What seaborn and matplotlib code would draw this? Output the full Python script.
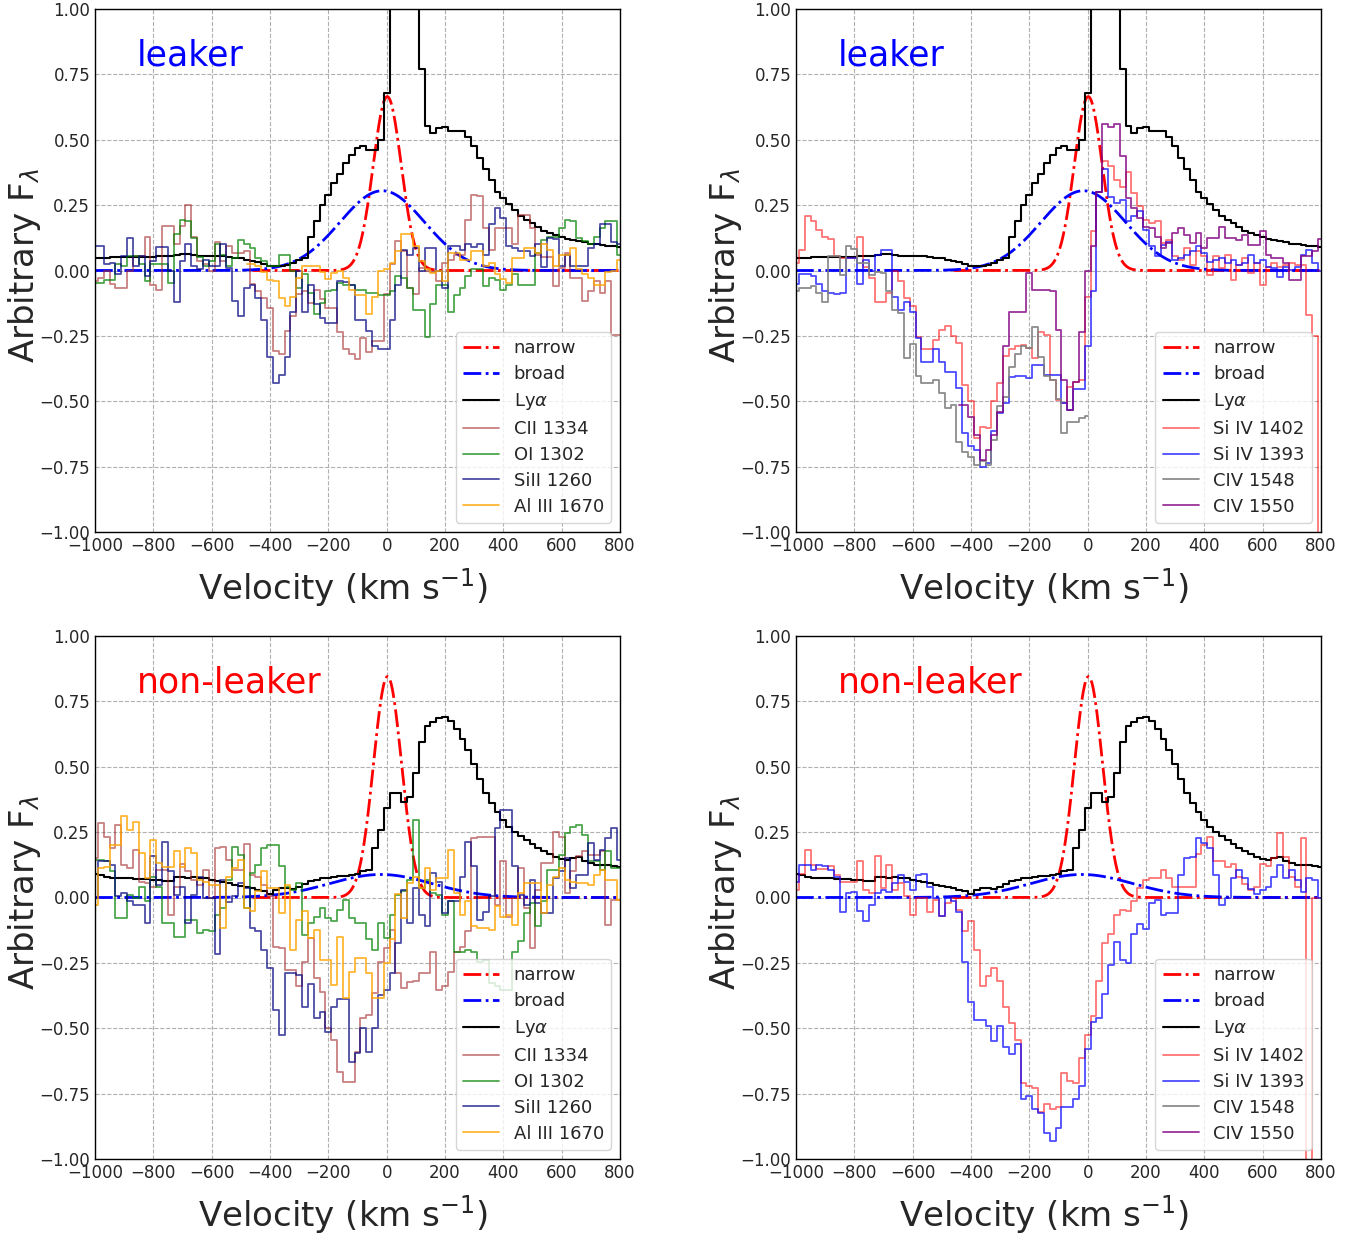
import numpy as np
import matplotlib
matplotlib.use("Agg")
import matplotlib.pyplot as plt
from matplotlib.lines import Line2D
import seaborn as sns

# velocity bin centres (km/s), 20 km/s bins
VEL = np.arange(-1000, 801, 20)
nan = np.nan

# ---------------- Ly-alpha profiles ----------------
LYA_LEAKER = [
    0.047, 0.047, 0.049, 0.050, 0.050, 0.051, 0.052, 0.052, 0.053, 0.052,
    0.052, 0.054, 0.055, 0.057, 0.060, 0.064, 0.062, 0.059, 0.057, 0.056,
    0.055, 0.056, 0.056, 0.052, 0.048, 0.046, 0.042, 0.038, 0.033, 0.026,
    0.019, 0.018, 0.019, 0.022, 0.030, 0.040, 0.047, 0.128, 0.19, 0.25,
    0.29, 0.334, 0.37, 0.41, 0.44, 0.47, 0.475, 0.46, 0.46, 0.50,
    0.68, 1.9, 2.4, 2.6, 2.3, 1.8, 0.77, 0.553, 0.525, 0.545,
    0.55, 0.535, 0.535, 0.535, 0.51, 0.475, 0.43, 0.39, 0.347, 0.30,
    0.277, 0.255, 0.23, 0.21, 0.195, 0.18, 0.165, 0.152, 0.142, 0.136,
    0.128, 0.122, 0.118, 0.113, 0.108, 0.103, 0.10, 0.097, 0.094, 0.092,
    0.09]

LYA_NONLEAKER = [
    0.088, 0.085, 0.080, 0.076, 0.074, 0.073, 0.073, 0.072, 0.072, 0.070,
    0.068, 0.066, 0.064, 0.065, 0.077, 0.077, 0.076, 0.077, 0.075, 0.074,
    0.068, 0.064, 0.058, 0.054, 0.049, 0.045, 0.040, 0.035, 0.030, 0.024,
    0.015, 0.028, 0.036, 0.036, 0.034, 0.040, 0.052, 0.062, 0.068, 0.073,
    0.075, 0.079, 0.082, 0.084, 0.086, 0.088, 0.10, 0.105, 0.19, 0.26,
    0.344, 0.40, 0.40, 0.365, 0.385, 0.477, 0.594, 0.657, 0.672, 0.685,
    0.689, 0.676, 0.643, 0.608, 0.564, 0.509, 0.455, 0.40, 0.36, 0.328,
    0.296, 0.27, 0.25, 0.235, 0.22, 0.205, 0.19, 0.178, 0.165, 0.155,
    0.148, 0.143, 0.15, 0.155, 0.14, 0.132, 0.126, 0.125, 0.124, 0.12,
    0.117]

# Gaussian fit components: amplitude, centre (km/s), sigma (km/s)
NARROW_LEAKER = [0.665, 2.0, 48.0]
BROAD_LEAKER = [0.305, -15.0, 145.0]
NARROW_NONLEAKER = [0.845, 3.0, 48.0]
BROAD_NONLEAKER = [0.088, -20.0, 175.0]
NARROW_RANGE = [-460, 800]

# ---------------- leaker, low ionisation ----------------
CII_LEAKER = [
    -0.04, -0.03, 0.0, -0.05, -0.066, -0.066, -0.003, 0.055, 0.055, 0.128,
    -0.054, -0.073, 0.17, 0.17, 0.10, 0.17, 0.25, 0.13, 0.035, 0.023,
    0.0, 0.11, 0.035, 0.093, 0.068, 0.068, 0.074, -0.05, -0.08, -0.105,
    -0.143, -0.306, -0.32, -0.23, -0.175, -0.09, -0.08, -0.124, -0.073, -0.11,
    -0.143, -0.143, -0.235, -0.30, -0.32, -0.337, -0.26, -0.31, -0.27, -0.27,
    -0.09, 0.023, 0.112, 0.074, -0.066, -0.09, 0.01, 0.0, -0.004, -0.04,
    0.03, 0.042, 0.06, 0.06, 0.195, 0.29, 0.285, 0.163, 0.08, 0.163,
    0.163, 0.163, 0.10, 0.214, 0.214, 0.163, 0.06, 0.05, 0.05, -0.06,
    0.008, 0.068, -0.028, -0.028, -0.115, -0.08, -0.04, -0.085, -0.04, -0.245,
    -0.245]

OI_LEAKER = [
    -0.047, -0.047, -0.035, -0.035, 0.023, 0.017, 0.055, 0.055, 0.023, -0.04,
    0.023, 0.023, 0.023, -0.047, 0.138, 0.195, 0.188, 0.125, 0.05, 0.017,
    0.035, 0.10, 0.06, 0.017, 0.048, 0.118, 0.10, 0.087, 0.048, 0.035,
    0.017, 0.017, 0.06, 0.06, -0.003, -0.066, -0.015, -0.085, -0.168, -0.124,
    -0.08, -0.073, -0.047, -0.054, -0.054, -0.073, -0.073, -0.085, -0.085, -0.092,
    -0.092, -0.08, -0.022, -0.028, -0.066, -0.15, -0.15, -0.255, -0.13, -0.054,
    -0.054, -0.16, -0.092, -0.066, -0.022, 0.004, 0.004, -0.06, -0.028, -0.035,
    -0.073, -0.054, -0.015, -0.054, -0.054, -0.054, 0.068, 0.118, 0.13, 0.13,
    0.163, 0.195, 0.188, 0.125, 0.112, 0.10, 0.13, 0.163, 0.19, 0.19,
    0.06]

SIII_LEAKER = [
    0.093, 0.093, 0.023, 0.03, -0.015, 0.055, 0.125, 0.017, 0.055, -0.02,
    0.035, 0.09, 0.09, -0.003, -0.12, 0.035, 0.10, 0.017, 0.004, 0.042,
    0.017, 0.017, 0.10, 0.01, -0.115, -0.175, -0.066, -0.056, -0.107, -0.19,
    -0.33, -0.43, -0.40, -0.33, -0.16, 0.0, -0.16, -0.054, -0.13, -0.18,
    -0.20, -0.20, -0.04, -0.043, -0.054, -0.19, -0.19, -0.23, -0.29, -0.30,
    -0.30, -0.19, -0.054, 0.08, 0.06, 0.087, 0.0, 0.087, 0.087, 0.0,
    -0.066, 0.093, 0.093, 0.08, 0.10, 0.09, 0.10, 0.06, 0.176, 0.24,
    0.20, 0.093, 0.087, 0.074, 0.074, 0.055, 0.10, 0.013, 0.125, 0.12,
    0.017, 0.06, 0.017, 0.017, 0.017, 0.087, 0.10, 0.176, 0.176, 0.11,
    0.10]

ALIII_LEAKER = [
    nan, nan, nan, nan, nan, nan, nan, nan, nan, nan,
    nan, nan, nan, nan, nan, nan, nan, nan, nan, nan,
    nan, nan, nan, nan, nan, nan, 0.023, 0.023, 0.017, -0.005,
    -0.038, -0.04, -0.105, -0.137, -0.10, -0.028, 0.017, 0.017, 0.017, -0.005,
    -0.034, -0.009, -0.003, -0.028, -0.073, -0.094, -0.094, -0.166, -0.10, 0.0,
    0.004, 0.03, 0.074, 0.138, 0.138, 0.093, 0.035, 0.004, -0.009, -0.003,
    -0.04, 0.068, 0.068, 0.042, 0.042, 0.074, 0.074, 0.017, 0.03, -0.015,
    -0.034, -0.047, 0.048, 0.048, 0.087, 0.087, 0.068, 0.10, 0.077, 0.017,
    0.06, 0.06, 0.087, 0.004, -0.015, -0.028, -0.054, -0.054, -0.005, 0.0,
    0.042]

# ---------------- leaker, high ionisation ----------------
SIIV1402_LEAKER = [
    0.03, 0.08, 0.207, 0.19, 0.156, 0.128, 0.12, 0.054, 0.047, 0.047,
    0.047, 0.13, 0.015, -0.03, -0.12, -0.12, -0.087, 0.0, -0.04, -0.105,
    -0.135, -0.255, -0.30, -0.30, -0.265, -0.227, -0.214, -0.25, -0.278, -0.437,
    -0.50, -0.64, -0.597, -0.603, -0.50, -0.43, -0.327, -0.30, -0.29, -0.284,
    -0.297, -0.335, -0.237, -0.246, -0.418, -0.495, -0.508, -0.444, -0.425, -0.418,
    -0.10, 0.15, 0.30, 0.42, 0.40, 0.347, 0.32, 0.376, 0.296, 0.245,
    0.194, 0.18, 0.19, 0.105, 0.117, 0.054, 0.04, 0.085, 0.022, 0.073,
    0.054, -0.017, 0.054, 0.01, 0.06, -0.036, 0.02, 0.047, -0.01, 0.028,
    -0.055, 0.015, 0.028, 0.015, 0.02, 0.03, 0.02, 0.02, -0.17, -0.25,
    -1.5]

SIIV1393_LEAKER = [
    -0.05, -0.015, -0.015, -0.02, -0.05, -0.08, -0.085, -0.088, -0.085, 0.047,
    0.047, -0.05, 0.04, 0.0, 0.06, 0.077, 0.077, -0.10, -0.15, -0.12,
    -0.16, -0.26, -0.35, -0.35, -0.30, -0.35, -0.39, -0.39, -0.45, -0.62,
    -0.67, -0.686, -0.75, -0.737, -0.615, -0.546, -0.507, -0.406, -0.403, -0.403,
    -0.41, -0.36, -0.36, -0.40, -0.40, -0.40, -0.507, -0.533, -0.455, -0.455,
    -0.29, -0.08, 0.30, 0.39, 0.28, 0.26, 0.27, 0.19, 0.21, 0.226,
    0.155, 0.092, 0.054, 0.098, 0.11, 0.04, 0.047, 0.06, 0.073, 0.094,
    0.066, 0.034, 0.04, 0.047, 0.028, 0.04, 0.02, 0.03, 0.06, 0.028,
    0.04, 0.015, 0.01, -0.023, 0.015, 0.003, 0.015, 0.06, 0.08, 0.028,
    0.0]

CIV1548_LEAKER = [
    -0.08, -0.068, -0.068, -0.06, -0.087, -0.122, 0.054, 0.054, -0.017, 0.092,
    0.082, 0.028, 0.028, -0.017, -0.004, -0.01, -0.08, -0.15, -0.163, -0.335,
    -0.28, -0.405, -0.43, -0.43, -0.42, -0.47, -0.527, -0.514, -0.654, -0.693,
    -0.712, -0.744, -0.727, -0.744, -0.647, -0.52, -0.482, -0.37, -0.32, -0.29,
    -0.297, -0.217, -0.33, -0.405, -0.42, -0.49, -0.622, -0.578, -0.578, -0.565,
    -0.556, nan, nan, nan, nan, nan, nan, nan, nan, nan,
    nan, nan, nan, nan, nan, nan, nan, nan, nan, nan,
    nan, nan, nan, nan, nan, nan, nan, nan, nan, nan,
    nan, nan, nan, nan, nan, nan, nan, nan, nan, nan,
    nan]

CIV1550_LEAKER = [
    nan, nan, nan, nan, nan, nan, nan, nan, nan, nan,
    nan, nan, nan, nan, nan, nan, nan, nan, nan, nan,
    nan, nan, nan, nan, nan, nan, nan, nan, -0.514, -0.514,
    -0.56, -0.63, -0.725, -0.686, -0.63, -0.54, -0.29, -0.157, -0.157, -0.157,
    -0.01, -0.074, -0.074, -0.074, -0.08, -0.227, -0.418, -0.533, -0.425, -0.237,
    0.0, 0.094, 0.30, 0.56, 0.55, 0.56, 0.436, 0.277, 0.238, 0.20,
    0.168, 0.162, 0.13, 0.085, 0.105, 0.143, 0.162, 0.136, 0.105, 0.143,
    0.085, 0.124, 0.124, 0.168, 0.124, 0.124, 0.118, 0.136, 0.098, 0.098,
    0.15, 0.06, 0.047, 0.047, 0.028, -0.036, -0.036, 0.054, 0.054, 0.073,
    0.12]

# ---------------- non-leaker, low ionisation ----------------
CII_NONLEAKER = [
    0.15, 0.285, 0.23, 0.19, 0.278, 0.125, 0.112, 0.182, 0.06, 0.055,
    0.042, 0.105, 0.105, -0.066, 0.042, 0.13, 0.10, 0.067, 0.048, 0.106,
    0.0, 0.19, 0.195, 0.145, 0.106, 0.106, 0.204, 0.087, 0.08, 0.048,
    0.004, -0.19, -0.195, -0.277, -0.277, -0.34, -0.245, -0.155, -0.308, -0.36,
    -0.50, -0.545, -0.666, -0.707, -0.707, -0.59, -0.462, -0.45, -0.366, -0.245,
    -0.194, -0.124, -0.29, -0.345, -0.322, -0.32, -0.29, -0.29, -0.207, -0.353,
    -0.34, -0.283, -0.207, -0.188, -0.13, 0.227, 0.233, 0.233, 0.233, -0.028,
    0.138, -0.073, -0.003, 0.112, -0.04, -0.194, 0.03, 0.132, 0.132, 0.25,
    0.233, 0.017, 0.10, 0.157, 0.176, 0.164, 0.164, 0.176, -0.105, -0.009,
    -0.009]

OI_NONLEAKER = [
    0.144, 0.144, 0.138, 0.10, -0.08, -0.08, 0.01, -0.003, 0.042, -0.015,
    0.08, 0.042, -0.098, -0.098, -0.15, -0.15, -0.085, -0.085, -0.136, -0.124,
    -0.13, -0.066, -0.04, 0.067, 0.195, 0.163, -0.04, 0.093, 0.125, 0.188,
    0.20, 0.20, 0.119, 0.042, 0.03, 0.055, -0.143, -0.098, -0.073, -0.04,
    -0.078, -0.09, -0.047, -0.009, -0.078, -0.098, -0.098, -0.16, -0.2, -0.098,
    -0.155, -0.066, 0.01, 0.023, 0.067, 0.297, 0.036, 0.067, 0.017, 0.01,
    -0.066, -0.015, -0.207, -0.207, -0.2, -0.207, -0.245, -0.24, -0.327, -0.34,
    -0.353, -0.353, -0.207, -0.168, -0.06, -0.022, -0.11, -0.015, 0.106, 0.106,
    0.163, 0.246, 0.27, 0.278, 0.24, 0.138, 0.138, 0.106, 0.176, 0.112,
    0.112]

SIII_NONLEAKER = [
    0.0, 0.138, 0.138, 0.125, 0.004, 0.017, -0.015, -0.028, -0.03, -0.098,
    0.157, 0.048, 0.214, 0.10, 0.01, 0.042, -0.098, 0.01, 0.08, -0.003,
    -0.003, -0.217, 0.067, -0.018, 0.004, 0.055, 0.036, -0.117, -0.127, -0.20,
    -0.27, -0.43, -0.525, -0.29, -0.29, -0.296, -0.417, -0.332, -0.46, -0.436,
    -0.515, -0.417, -0.39, -0.39, -0.628, -0.596, -0.50, -0.59, -0.50, -0.372,
    -0.353, -0.29, -0.175, 0.03, -0.098, 0.036, -0.066, -0.11, 0.093, 0.061,
    -0.06, -0.015, -0.015, 0.08, 0.214, 0.119, -0.085, -0.054, 0.004, 0.265,
    0.335, 0.335, 0.119, 0.01, -0.028, 0.067, -0.022, -0.06, -0.06, 0.074,
    0.10, 0.15, 0.036, 0.087, 0.087, 0.208, 0.145, 0.183, 0.227, 0.265,
    0.145]

ALIII_NONLEAKER = [
    -0.028, 0.112, 0.118, 0.2, 0.2, 0.31, 0.258, 0.29, 0.17, 0.074,
    0.22, 0.132, 0.118, 0.118, 0.176, 0.118, 0.189, 0.17, 0.068, 0.061,
    0.048, 0.048, -0.117, 0.08, 0.112, 0.144, -0.04, -0.053, 0.023, 0.10,
    0.036, 0.036, -0.06, 0.048, -0.2, -0.085, -0.053, -0.156, -0.124, -0.238,
    -0.238, -0.334, -0.15, -0.385, -0.283, -0.232, -0.232, -0.29, -0.385, -0.385,
    -0.25, -0.16, 0.015, -0.079, 0.055, 0.08, 0.036, 0.112, 0.03, 0.074,
    0.074, 0.182, 0.017, -0.066, -0.015, -0.11, -0.117, -0.117, -0.124, -0.034,
    -0.073, -0.066, -0.105, 0.017, 0.055, 0.055, 0.055, -0.06, 0.048, 0.08,
    0.112, 0.068, 0.061, 0.055, 0.055, 0.048, 0.087, 0.106, 0.068, 0.068,
    -0.009]

# ---------------- non-leaker, high ionisation ----------------
SIIV1402_NONLEAKER = [
    0.03, 0.09, 0.18, 0.125, 0.11, 0.11, 0.12, 0.087, 0.06, 0.06,
    0.06, 0.14, 0.03, 0.017, 0.157, 0.036, 0.125, 0.03, 0.055, 0.004,
    -0.066, 0.0, 0.0, -0.054, -0.01, -0.07, -0.02, 0.0, -0.047, -0.13,
    -0.09, -0.20, -0.34, -0.30, -0.27, -0.32, -0.42, -0.48, -0.545, -0.71,
    -0.72, -0.73, -0.82, -0.79, -0.81, -0.80, -0.67, -0.70, -0.71, -0.615,
    -0.525, -0.455, -0.32, -0.175, -0.14, -0.066, -0.047, -0.05, -0.015, 0.036,
    0.066, 0.073, 0.073, 0.105, 0.073, 0.04, 0.04, 0.04, 0.04, 0.168,
    0.20, 0.232, 0.14, 0.14, 0.118, 0.13, 0.08, 0.05, 0.028, 0.04,
    0.13, 0.12, 0.15, 0.245, 0.155, 0.08, 0.04, 0.226, -1.6, 0.0,
    0.0]

SIIV1393_NONLEAKER = [
    0.06, 0.125, 0.125, 0.106, 0.125, 0.12, 0.106, 0.08, -0.057, 0.017,
    0.02, -0.05, -0.09, -0.03, 0.017, 0.03, 0.02, 0.055, 0.087, 0.06,
    0.03, 0.087, 0.09, 0.04, 0.0, -0.07, 0.0, -0.015, -0.054, -0.245,
    -0.40, -0.47, -0.47, -0.49, -0.55, -0.49, -0.57, -0.60, -0.56, -0.77,
    -0.76, -0.81, -0.825, -0.90, -0.93, -0.88, -0.80, -0.80, -0.77, -0.72,
    -0.58, -0.475, -0.46, -0.37, -0.26, -0.17, -0.24, -0.25, -0.14, -0.10,
    -0.12, -0.02, -0.01, -0.066, -0.06, -0.06, 0.087, 0.15, 0.155, 0.226,
    0.207, 0.19, 0.085, -0.03, 0.0, 0.073, 0.105, 0.073, 0.034, 0.015,
    0.028, 0.04, 0.08, 0.124, 0.073, 0.105, 0.066, 0.022, 0.073, 0.066,
    0.0]

LOW_LABELS = ["CII 1334", "OI 1302", "SiII 1260", "Al III 1670"]
LOW_COLORS = ["brown", "green", "navy", "orange"]
LOW_ALPHA = [0.6, 0.7, 0.7, 0.8]
HIGH_LABELS = ["Si IV 1402", "Si IV 1393", "CIV 1548", "CIV 1550"]
HIGH_COLORS = ["red", "blue", "gray", "purple"]
HIGH_ALPHA = [0.55, 0.7, 0.9, 0.8]

YTICKS = [-1.0, -0.75, -0.5, -0.25, 0.0, 0.25, 0.5, 0.75, 1.0]
XTICKS = [-1000, -800, -600, -400, -200, 0, 200, 400, 600, 800]

sns.set_style("white")
plt.rcParams["font.family"] = ["DejaVu Sans"]
plt.rcParams["mathtext.fontset"] = "dejavusans"

fig = plt.figure(figsize=(13.63, 12.37), dpi=100)
W, H = 1363.0, 1237.0
boxes = [
    (95, 9, 620, 532),
    (796, 9, 1321, 532),
    (95, 636, 620, 1159),
    (796, 636, 1321, 1159),
]


def make_axes(b):
    x0, y0, x1, y1 = b
    return fig.add_axes([x0 / W, 1 - y1 / H, (x1 - x0) / W, (y1 - y0) / H])


def gauss(par, v):
    a, c, s = par
    return a * np.exp(-0.5 * ((v - c) / s) ** 2)


def step_line(ax, values, color, label, lw=1.3, alpha=1.0):
    y = np.asarray(values, dtype=float)
    m = ~np.isnan(y)
    sns.lineplot(x=VEL[m], y=y[m], ax=ax, color=color, lw=lw, alpha=alpha,
                 label=label, drawstyle="steps-mid", estimator=None, sort=False)


def panel(ax, lya, narrow, broad, lines, labels, colors, alphas, tag, tag_color,
          extra_handles=()):
    vn = np.linspace(NARROW_RANGE[0], NARROW_RANGE[1], 800)
    vb = np.linspace(-1000, 800, 900)
    sns.lineplot(x=vn, y=gauss(narrow, vn), ax=ax, color="red", lw=2.0,
                 ls="-.", label="narrow", estimator=None, sort=False)
    sns.lineplot(x=vb, y=gauss(broad, vb), ax=ax, color="blue", lw=2.0,
                 ls="-.", label="broad", estimator=None, sort=False)
    step_line(ax, lya, "black", r"Ly$\alpha$", lw=1.5)
    for vals, lab, col, al in zip(lines, labels, colors, alphas):
        step_line(ax, vals, col, lab, lw=1.3, alpha=al)

    handles, labs = ax.get_legend_handles_labels()
    for h in extra_handles:
        handles.append(h)
        labs.append(h.get_label())
    ax.legend(handles, labs, loc="lower right", fontsize=13, framealpha=0.8,
              handlelength=2.0, labelspacing=0.44)

    ax.set_xlim(-1000, 800)
    ax.set_ylim(-1.0, 1.0)
    ax.set_xticks(XTICKS)
    ax.set_yticks(YTICKS)
    ax.set_yticklabels([f"{t:.2f}".replace("-", "\u2212") for t in YTICKS])
    ax.tick_params(direction="in", labelsize=12, length=4, width=1)
    ax.grid(True, ls="--", color="#b0b0b0", lw=0.8)
    ax.set_axisbelow(True)
    for sp in ax.spines.values():
        sp.set_color("black")
        sp.set_linewidth(1.0)
    ax.set_xlabel(r"Velocity (km s$^{-1}$)", fontsize=24.5, labelpad=8)
    ax.xaxis.label.set_x(0.473)
    ax.set_ylabel(r"Arbitrary F$_\lambda$", fontsize=24.5)
    ax.yaxis.set_label_coords(-0.099, 0.51)
    ax.text(0.08, 0.911, tag, transform=ax.transAxes, color=tag_color,
            fontsize=25, va="center", ha="left")


ax1, ax2, ax3, ax4 = [make_axes(b) for b in boxes]

panel(ax1, LYA_LEAKER, NARROW_LEAKER, BROAD_LEAKER,
      [CII_LEAKER, OI_LEAKER, SIII_LEAKER, ALIII_LEAKER],
      LOW_LABELS, LOW_COLORS, LOW_ALPHA, "leaker", "blue")

panel(ax2, LYA_LEAKER, NARROW_LEAKER, BROAD_LEAKER,
      [SIIV1402_LEAKER, SIIV1393_LEAKER, CIV1548_LEAKER, CIV1550_LEAKER],
      HIGH_LABELS, HIGH_COLORS, HIGH_ALPHA, "leaker", "blue")

panel(ax3, LYA_NONLEAKER, NARROW_NONLEAKER, BROAD_NONLEAKER,
      [CII_NONLEAKER, OI_NONLEAKER, SIII_NONLEAKER, ALIII_NONLEAKER],
      LOW_LABELS, LOW_COLORS, LOW_ALPHA, "non-leaker", "red")

# the C IV doublet has no coverage for the non-leaker stack
civ_handles = [Line2D([], [], color=HIGH_COLORS[2], lw=1.3, alpha=HIGH_ALPHA[2], label=HIGH_LABELS[2]),
               Line2D([], [], color=HIGH_COLORS[3], lw=1.3, alpha=HIGH_ALPHA[3], label=HIGH_LABELS[3])]
panel(ax4, LYA_NONLEAKER, NARROW_NONLEAKER, BROAD_NONLEAKER,
      [SIIV1402_NONLEAKER, SIIV1393_NONLEAKER],
      HIGH_LABELS[:2], HIGH_COLORS[:2], HIGH_ALPHA[:2], "non-leaker", "red",
      extra_handles=civ_handles)

fig.savefig("out.png", dpi=100)
